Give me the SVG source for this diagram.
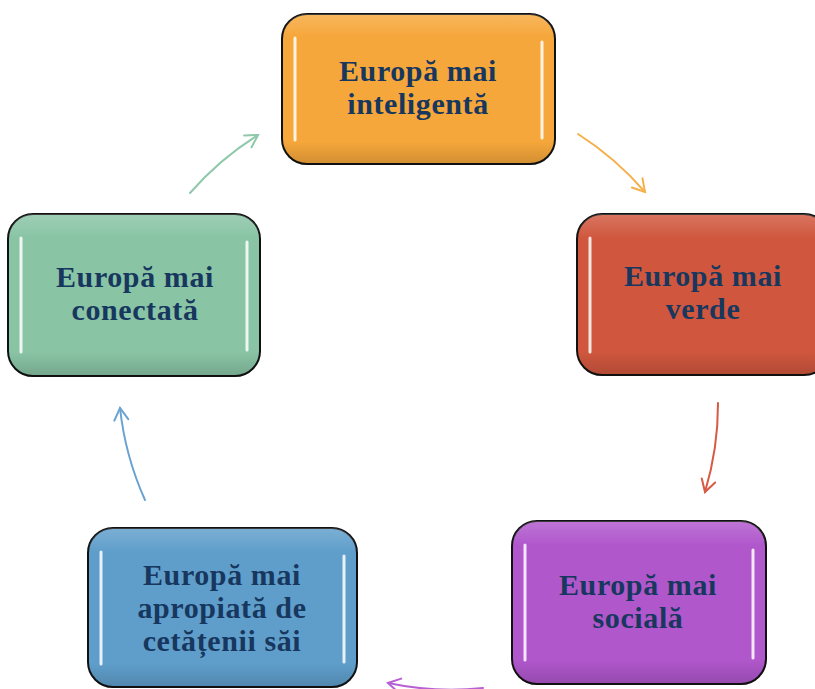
<svg xmlns="http://www.w3.org/2000/svg" width="815" height="689" viewBox="0 0 815 689">
<style>
.box{stroke:#111;stroke-width:2}
.gloss{fill:url(#shade)}
.hl{stroke:#fff;stroke-width:3;stroke-linecap:round;fill:none;opacity:0.85}
.lbl{font-family:"Liberation Serif","Times New Roman",serif;font-weight:bold;font-size:30px;letter-spacing:0.6px;fill:#17375e;text-anchor:middle}
.arr{fill:none;stroke-width:2;stroke-linecap:round}
</style>
<defs>
<linearGradient id="shade" x1="0" y1="0" x2="0" y2="1">
<stop offset="0" stop-color="#fff" stop-opacity="0.18"/>
<stop offset="0.15" stop-color="#fff" stop-opacity="0"/>
<stop offset="0.85" stop-color="#000" stop-opacity="0"/>
<stop offset="1" stop-color="#000" stop-opacity="0.15"/>
</linearGradient>
<marker id="mO" viewBox="-14 -9 16 18" markerWidth="16" markerHeight="18" refX="0" refY="0" orient="auto" markerUnits="userSpaceOnUse"><path d="M-12,-7 L0,0 L-12,7" fill="none" stroke="#f5b04a" stroke-width="2" stroke-linecap="round"/></marker>
<marker id="mR" viewBox="-14 -9 16 18" markerWidth="16" markerHeight="18" refX="0" refY="0" orient="auto" markerUnits="userSpaceOnUse"><path d="M-12,-7 L0,0 L-12,7" fill="none" stroke="#d65a44" stroke-width="2" stroke-linecap="round"/></marker>
<marker id="mP" viewBox="-14 -9 16 18" markerWidth="16" markerHeight="18" refX="0" refY="0" orient="auto" markerUnits="userSpaceOnUse"><path d="M-12,-7 L0,0 L-12,7" fill="none" stroke="#b660d4" stroke-width="2" stroke-linecap="round"/></marker>
<marker id="mB" viewBox="-14 -9 16 18" markerWidth="16" markerHeight="18" refX="0" refY="0" orient="auto" markerUnits="userSpaceOnUse"><path d="M-12,-7 L0,0 L-12,7" fill="none" stroke="#6aa3d2" stroke-width="2" stroke-linecap="round"/></marker>
<marker id="mG" viewBox="-14 -9 16 18" markerWidth="16" markerHeight="18" refX="0" refY="0" orient="auto" markerUnits="userSpaceOnUse"><path d="M-12,-7 L0,0 L-12,7" fill="none" stroke="#8fc8aa" stroke-width="2" stroke-linecap="round"/></marker>
</defs>
<rect width="815" height="689" fill="#fff"/>
<g id="connectors">
<path class="arr" stroke="#f5b04a" marker-end="url(#mO)" d="M578,134 A305,305 0 0 1 645,192"/>
<path class="arr" stroke="#d65a44" marker-end="url(#mR)" d="M718,403 A305,305 0 0 1 705,492"/>
<path class="arr" stroke="#b660d4" marker-end="url(#mP)" d="M483,688 A305,305 0 0 1 388,683"/>
<path class="arr" stroke="#6aa3d2" marker-end="url(#mB)" d="M145,500 A305,305 0 0 1 120,408"/>
<path class="arr" stroke="#8fc8aa" marker-end="url(#mG)" d="M190,193 A305,305 0 0 1 258,135"/>
</g>
<g id="node-inteligenta">
<rect class="box" x="282" y="14" width="273" height="150" rx="25" fill="#f6a73b"/>
<rect class="gloss" x="282" y="14" width="273" height="150" rx="25"/>
<path class="hl" d="M295,38 L295,140 M542,42 L542,138"/>
<text class="lbl" x="418" y="81">Europă mai</text>
<text class="lbl" x="418" y="114">inteligentă</text>
</g>
<g id="node-verde">
<rect class="box" x="577" y="214" width="252" height="161" rx="25" fill="#d0573e"/>
<rect class="gloss" x="577" y="214" width="252" height="161" rx="25"/>
<path class="hl" d="M590,238 L590,352"/>
<text class="lbl" x="703" y="286">Europă mai</text>
<text class="lbl" x="703" y="319">verde</text>
</g>
<g id="node-sociala">
<rect class="box" x="512" y="521" width="254" height="163" rx="25" fill="#b057cc"/>
<rect class="gloss" x="512" y="521" width="254" height="163" rx="25"/>
<path class="hl" d="M525,545 L525,660 M753,550 L753,658"/>
<text class="lbl" x="638" y="595">Europă mai</text>
<text class="lbl" x="638" y="628">socială</text>
</g>
<g id="node-apropiata">
<rect class="box" x="88" y="528" width="269" height="159" rx="25" fill="#5f9ecb"/>
<rect class="gloss" x="88" y="528" width="269" height="159" rx="25"/>
<path class="hl" d="M101,552 L101,664 M344,556 L344,662"/>
<text class="lbl" x="222" y="585">Europă mai</text>
<text class="lbl" x="222" y="618">apropiată de</text>
<text class="lbl" x="222" y="651">cetățenii săi</text>
</g>
<g id="node-conectata">
<rect class="box" x="8" y="214" width="252" height="162" rx="25" fill="#89c4a5"/>
<rect class="gloss" x="8" y="214" width="252" height="162" rx="25"/>
<path class="hl" d="M21,238 L21,352 M247,242 L247,350"/>
<text class="lbl" x="135" y="287">Europă mai</text>
<text class="lbl" x="135" y="320">conectată</text>
</g>
</svg>
